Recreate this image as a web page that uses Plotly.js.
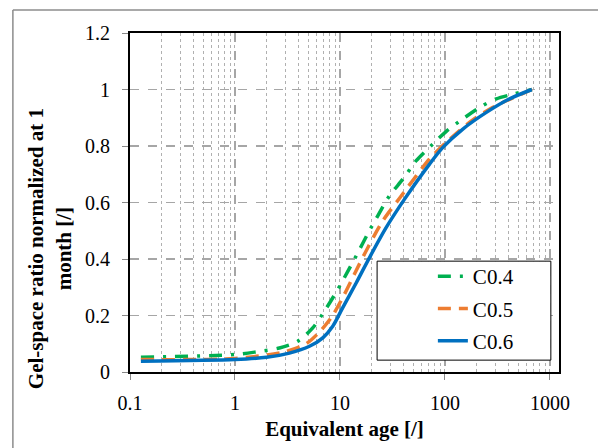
<!DOCTYPE html>
<html>
<head>
<meta charset="utf-8">
<script src="https://cdn.plot.ly/plotly-3.0.1.min.js"></script>
<style>html,body{margin:0;padding:0;background:#fff;}#chart{width:598px;height:448px;}</style>
</head>
<body>
<div id="chart"></div>
<script>
// Equivalent age values (x) and normalized gel-space ratio (y)
const ageC04 = [0.127, 1, 1.58, 2.65, 3.96, 5.5, 7.38, 9.53, 11.9, 14.8, 18.4, 22.9, 29.6, 39.8, 53.2, 76.7, 103, 148, 222, 308, 428, 672];
const valC04 = [0.052, 0.062, 0.071, 0.085, 0.109, 0.156, 0.225, 0.292, 0.357, 0.422, 0.490, 0.553, 0.624, 0.683, 0.748, 0.807, 0.852, 0.896, 0.940, 0.967, 0.982, 1.0];

const ageC05 = [0.127, 1, 2.85, 4.76, 6.38, 8.24, 10.6, 13.7, 18.4, 25.6, 36.9, 71.3, 103, 172, 286, 672];
const valC05 = [0.044, 0.048, 0.070, 0.100, 0.142, 0.192, 0.263, 0.346, 0.440, 0.535, 0.615, 0.754, 0.813, 0.884, 0.937, 1.0];

const ageC06 = [0.127, 1, 2, 3.3, 5.12, 6.86, 8.53, 10.6, 14.3, 19.1, 27.5, 41.2, 71.3, 95.5, 148, 248, 413, 672];
const valC06 = [0.038, 0.044, 0.052, 0.067, 0.091, 0.121, 0.162, 0.227, 0.316, 0.405, 0.511, 0.612, 0.736, 0.795, 0.860, 0.919, 0.967, 1.0];

const seriesNames = ["C0.4", "C0.5", "C0.6"];
const xTickVals = [0.1, 1, 10, 100, 1000];
const xTickText = ["0.1", "1", "10", "100", "1000"];
const yTickVals = [0, 0.2, 0.4, 0.6, 0.8, 1, 1.2];
const yTickText = ["0", "0.2", "0.4", "0.6", "0.8", "1", "1.2"];

const serif = "Liberation Serif";

const traces = [
  {x: ageC04, y: valC04, name: seriesNames[0], mode: "lines", line: {color: "#00B050", width: 3.5, dash: "13px,9px,3px,9px", shape: "spline", smoothing: 0.8}, legendgroup: "a"},
  {x: ageC05, y: valC05, name: seriesNames[1], mode: "lines", line: {color: "#ED7D31", width: 3.5, dash: "13px,8px", shape: "spline", smoothing: 0.8}, legendgroup: "b"},
  {x: ageC06, y: valC06, name: seriesNames[2], mode: "lines", line: {color: "#0070C0", width: 3.5, shape: "spline", smoothing: 0.8}, legendgroup: "c"}
];

const layout = {
  width: 598, height: 448,
  margin: {l: 130, r: 39, t: 33, b: 76},
  paper_bgcolor: "#fff", plot_bgcolor: "#fff",
  font: {family: serif, size: 20, color: "#000"},
  showlegend: true,
  legend: {
    x: 0.706, y: 0.342, xanchor: "left", yanchor: "top",
    bgcolor: "rgba(0,0,0,0)", borderwidth: 0,
    font: {family: serif, size: 21, color: "#000"},
    traceorder: "grouped", tracegroupgap: 2,
    itemwidth: 30
  },
  xaxis: {
    type: "log", range: [-1, 3.086],
    tickvals: xTickVals, ticktext: xTickText,
    ticks: "outside", ticklen: 6, tickcolor: "#888", tickwidth: 1,
    ticklabelstandoff: 6,
    showline: true, linecolor: "#000", linewidth: 2, mirror: true,
    showgrid: true, gridcolor: "#a6a6a6", griddash: "dash", gridwidth: 1.2,
    minor: {dtick: "D1", showgrid: true, gridcolor: "#b0b0b0", griddash: "dot", gridwidth: 1, ticks: ""},
    zeroline: false,
    tickfont: {family: serif, size: 20, color: "#000"},
    title: {text: "<b>Equivalent age [/]</b>", font: {family: serif, size: 21, color: "#000"}, standoff: 8}
  },
  yaxis: {
    range: [0, 1.2],
    tickvals: yTickVals, ticktext: yTickText,
    ticks: "outside", ticklen: 6, tickcolor: "#888", tickwidth: 1,
    ticklabelstandoff: 8,
    showline: true, linecolor: "#000", linewidth: 2, mirror: true,
    showgrid: true, gridcolor: "#a6a6a6", griddash: "dash", gridwidth: 1.2,
    zeroline: false,
    tickfont: {family: serif, size: 20, color: "#000"}
  },
  annotations: [{
    text: "<b>Gel-space ratio normalized at 1<br>month [/]</b>",
    xref: "paper", yref: "paper", x: -0.186, y: 0.363,
    xanchor: "center", yanchor: "middle", textangle: -90, showarrow: false,
    font: {family: serif, size: 21, color: "#000"}
  }],
  shapes: [
    {type: "rect", xref: "paper", yref: "paper", x0: 0.576, x1: 0.981, y0: 0.035, y1: 0.327, layer: "above", fillcolor: "#fff", line: {color: "#000", width: 1}},
    {type: "line", xref: "paper", yref: "paper", x0: -0.273, x1: 1.2, y0: 1.068, y1: 1.068, line: {color: "#8c8c8c", width: 1.5}},
    {type: "line", xref: "paper", yref: "paper", x0: -0.273, x1: -0.273, y0: 1.068, y1: -0.25, line: {color: "#8c8c8c", width: 1.5}}
  ]
};

Plotly.newPlot("chart", traces, layout, {displayModeBar: false, staticPlot: true});
</script>
</body>
</html>
